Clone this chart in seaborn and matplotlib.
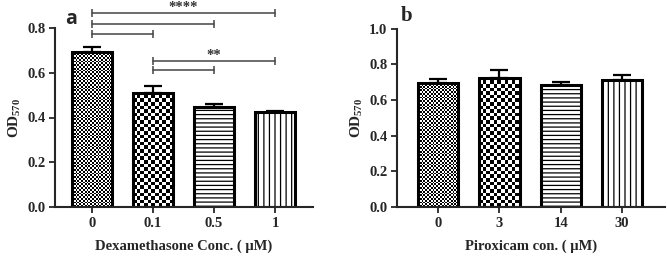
import numpy as np
import pandas as pd
import matplotlib
matplotlib.use("Agg")
import matplotlib.pyplot as plt
import seaborn as sns

# ---- data ----
dex_conc = ["0", "0.1", "0.5", "1"]
dex_mean = [0.694, 0.511, 0.446, 0.423]
dex_err = [0.022, 0.030, 0.013, 0.007]

pir_conc = ["0", "3", "14", "30"]
pir_mean = [0.697, 0.725, 0.684, 0.712]
pir_err = [0.023, 0.043, 0.017, 0.030]

# brackets: (start index, end index, y level, label)
dex_brackets = [(0, 3, 0.868, "****"), (0, 2, 0.818, ""), (0, 1, 0.773, ""),
                (1, 3, 0.652, "**"), (1, 2, 0.612, "")]

sns.set_style("ticks")
plt.rcParams["font.family"] = ["Liberation Serif", "DejaVu Serif"]
plt.rcParams["font.weight"] = "bold"
plt.rcParams["mathtext.fontset"] = "custom"
plt.rcParams["mathtext.rm"] = "Liberation Serif:bold"
plt.rcParams["mathtext.bf"] = "Liberation Serif:bold"
plt.rcParams["mathtext.it"] = "Liberation Serif:bold"
plt.rcParams["mathtext.default"] = "bf"
plt.rcParams["hatch.linewidth"] = 0.9
plt.rcParams["hatch.color"] = "black"

fig = plt.figure(figsize=(6.67, 2.61), dpi=100)
axA = fig.add_axes([55 / 667, 1 - 207 / 261, (313 - 55) / 667, (207 - 28) / 261])
axB = fig.add_axes([397 / 667, 1 - 207 / 261, (665 - 397) / 667, (207 - 28.7) / 261])

styles = [("checker", 1.8), ("checker", 3.6), ("hatch", "----"), ("hatch", "|||")]


def draw_panel(ax, cats, means, errs, xlabel, ylim, xlim):
    df = pd.DataFrame({"conc": cats, "od": means})
    sns.barplot(data=df, x="conc", y="od", order=cats, ax=ax, width=0.66,
                color="white", edgecolor="black", linewidth=2.2, errorbar=None,
                saturation=1)
    xs = np.arange(len(cats))
    ax.errorbar(xs, means, yerr=[np.zeros(len(cats)), errs], fmt="none",
                ecolor="black", elinewidth=1.6, capsize=6.5, capthick=1.6, zorder=0.8)
    ax.set_xlim(*xlim)
    ax.set_ylim(*ylim)
    ax.set_xlabel(xlabel, fontsize=10.5, fontweight="bold", labelpad=7)
    ax.set_ylabel("OD$_{570}$", fontsize=11, fontweight="bold", labelpad=3)
    for s in ["top", "right"]:
        ax.spines[s].set_visible(False)
    for s in ["left", "bottom"]:
        ax.spines[s].set_linewidth(1.5)
    ax.tick_params(axis="both", width=1.3, length=4, labelsize=10.5, pad=3)


draw_panel(axA, dex_conc, dex_mean, dex_err, "Dexamethasone Conc. ( \u03bcM)", (0, 0.8), (-0.6, 3.62))
axA.set_yticks([0.0, 0.2, 0.4, 0.6, 0.8])
axA.set_yticklabels(["0.0", "0.2", "0.4", "0.6", "0.8"])
draw_panel(axB, pir_conc, pir_mean, pir_err, "Piroxicam con. ( \u03bcM)", (0, 1.0), (-0.67, 3.7))
axB.set_yticks([0.0, 0.2, 0.4, 0.6, 0.8, 1.0])
axB.set_yticklabels(["0.0", "0.2", "0.4", "0.6", "0.8", "1.0"])
for ax in (axA, axB):
    for lab in ax.get_xticklabels() + ax.get_yticklabels():
        lab.set_fontweight("bold")

fig.canvas.draw()
renderer = fig.canvas.get_renderer()


def apply_textures(ax):
    xl, yl = ax.get_xlim(), ax.get_ylim()
    for patch, (kind, val) in zip(ax.patches, styles):
        if kind == "hatch":
            patch.set_hatch(val)
            continue
        patch.set_facecolor("none")
        bb = patch.get_window_extent(renderer)
        cell = val
        nx = int(bb.width / cell) + 2
        ny = int(bb.height / cell) + 2
        arr = np.add.outer(np.arange(ny), np.arange(nx)) % 2
        dx = patch.get_width() / bb.width
        dy = patch.get_height() / bb.height
        x0, y0 = patch.get_x(), patch.get_y()
        im = ax.imshow(arr, cmap="gray_r", vmin=0, vmax=1, origin="lower",
                       extent=(x0, x0 + nx * cell * dx, y0, y0 + ny * cell * dy),
                       interpolation="nearest", aspect="auto", zorder=0.5)
        im.set_clip_path(patch)
    ax.set_xlim(*xl)
    ax.set_ylim(*yl)


apply_textures(axA)
apply_textures(axB)

# significance brackets
for i0, i1, y, lab in dex_brackets:
    axA.plot([i0, i1], [y, y], color="#444444", lw=1.1, marker="|", markersize=6,
             markeredgewidth=1.1, clip_on=False)
    if lab:
        axA.text((i0 + i1) / 2, y - 0.004, lab, ha="center", va="bottom",
                 fontsize=10.5, fontweight="bold", color="#333333")

# panel labels
fig.text(65 / 667, 1 - 19 / 261, "a", fontsize=14, fontweight="bold",
         family=["Open Sans", "DejaVu Sans"], ha="left", va="center")
fig.text(401 / 667, 1 - 16 / 261, "b", fontsize=15, fontweight="bold",
         ha="left", va="center")

fig.savefig("out.png", dpi=100)
